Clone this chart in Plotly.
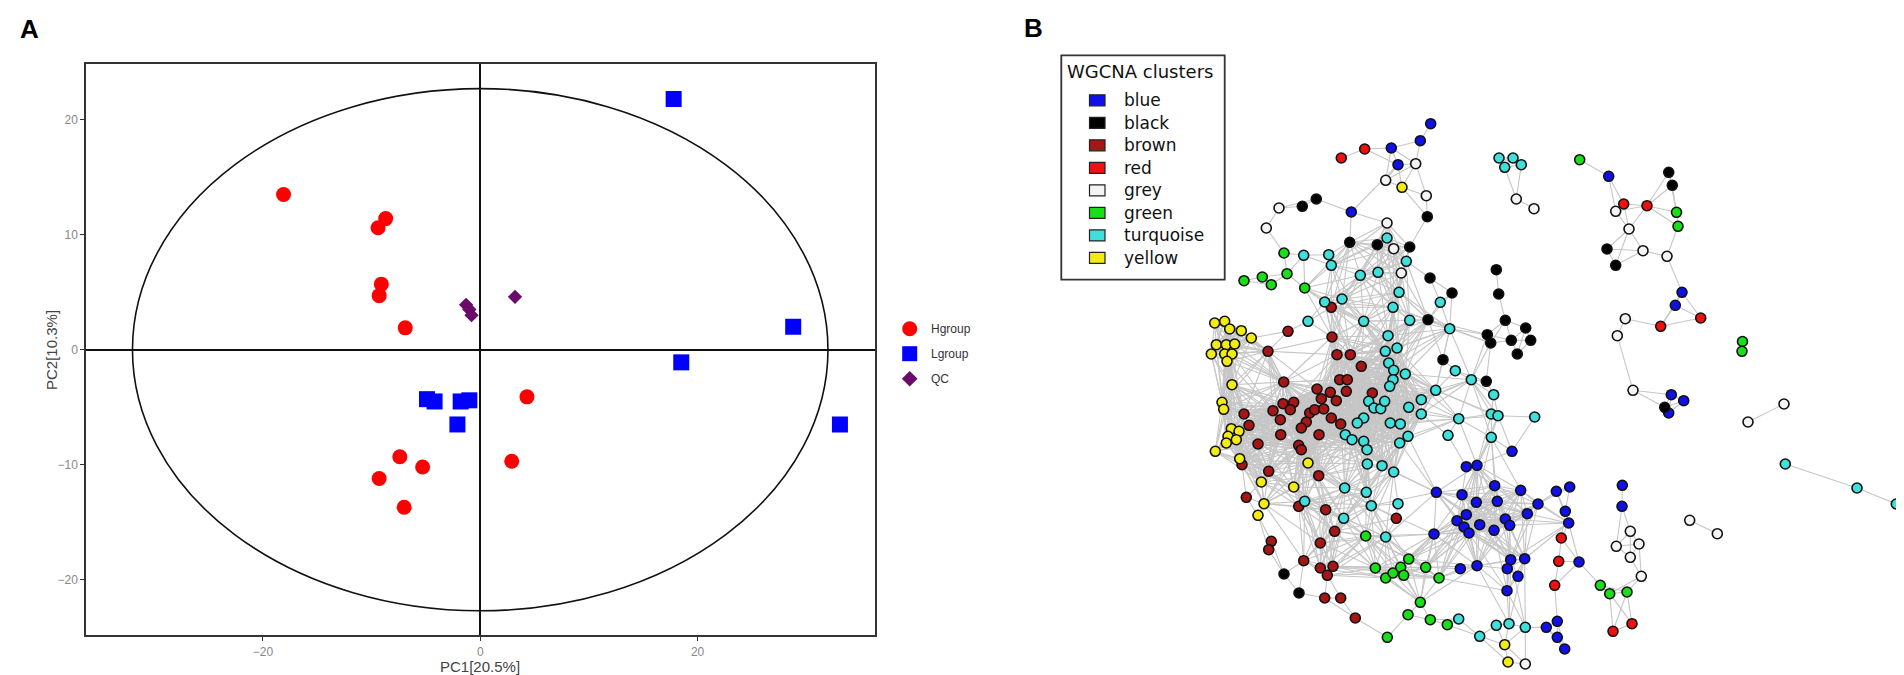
import numpy as np
import plotly.graph_objects as go

# ---- Panel A: PCA scores ----
h_pc1 = [-18.1, -8.7, -9.4, -9.1, -9.3, -6.9, 4.3, -7.4, -5.3, -9.3, -7.0, 2.9]
h_pc2 = [13.5, 11.4, 10.6, 5.7, 4.7, 1.9, -4.1, -9.3, -10.2, -11.2, -13.7, -9.7]
l_pc1 = [17.8, 28.8, 18.5, 33.1, -4.9, -4.2, -1.8, -1.0, -2.1]
l_pc2 = [21.8, 2.0, -1.1, -6.5, -4.3, -4.5, -4.5, -4.4, -6.5]
qc_pc1 = [-1.3, -1.0, -0.8, 3.2]
qc_pc2 = [3.9, 3.5, 3.0, 4.6]
ellipse_a, ellipse_b = 32.0, 22.7

# ---- Panel B: WGCNA network layout (pixel coordinates of the layout) ----
blue_x = [1422.7, 1412.3, 1383.3, 1390, 1343.3, 1600.7, 1674, 1667.3, 1428.3, 1426, 1504, 1458.3, 1469,
          1486.7, 1512.7, 1548.3, 1561.7, 1454, 1468.3, 1489.3, 1530, 1458.3, 1449, 1456, 1461, 1471.7,
          1497.3, 1501.7, 1486, 1519.3, 1557.3, 1560.7, 1614.3, 1614, 1663.3, 1675.7, 1660.7, 1452.3,
          1469, 1502.7, 1516.7, 1499.3, 1510, 1499, 1571, 1538.3, 1549.3, 1549.3, 1556.7]
blue_y = [115.7, 132.7, 140, 156.7, 204, 168.3, 284.3, 297.3, 484.3, 526, 443.3, 458.7, 457.3,
          477.7, 482.3, 483.3, 479, 486.7, 494.3, 493.3, 496, 506.7, 512.7, 519, 525, 516.7,
          511, 517.3, 522.3, 505.7, 503.3, 515, 477.3, 498.3, 386.7, 392.7, 405, 560.7,
          557.7, 551.7, 550.7, 560.7, 568.3, 582.7, 554, 619.3, 613.3, 629.3, 641]
black_x = [1294.3, 1308.3, 1419.3, 1341.7, 1369.3, 1401.7, 1422, 1420, 1660.7, 1664.3, 1599, 1607.7,
           1488.3, 1490.7, 1444, 1497.3, 1517.7, 1479.3, 1503.3, 1522.7, 1482.7, 1435, 1509.3, 1478.3,
           1656.7, 1276, 1291]
black_y = [198.3, 191, 208.7, 234.3, 236.7, 239, 270, 311.7, 164.3, 177.3, 241, 257.3,
           261.7, 286, 285, 312.3, 320, 326.7, 332.3, 332.3, 335, 351.7, 346, 373.3,
           399.3, 566, 585]
brown_x = [1323.3, 1280, 1324, 1260, 1329, 1342.3, 1353.3, 1331.7, 1339.3, 1275.7, 1309, 1322.3, 1338.3,
           1313.3, 1328.3, 1364.3, 1275, 1285.7, 1282.3, 1265, 1301.7, 1306.7, 1315.7, 1236, 1272.3,
           1323.3, 1298.3, 1293.3, 1332.7, 1241, 1272.7, 1311, 1250, 1290.7, 1293.3, 1234, 1260.7,
           1310.7, 1238.3, 1290.7, 1317.7, 1388.3, 1326.7, 1263.3, 1260.7, 1312.3, 1295.7, 1312.3, 1325,
           1319.3, 1316.7, 1332.7, 1347.3]
brown_y = [299.3, 323.3, 329, 343.3, 346.7, 346.7, 358.3, 371.7, 371.7, 374, 381, 384.3, 383.3,
           390.7, 392.7, 385, 395.7, 394.3, 401.7, 402.7, 405, 401.7, 401, 406, 411.7,
           410, 414, 420, 416, 417.3, 426.7, 426.7, 436, 437.3, 441.7, 456.7, 463.3,
           467.7, 489.3, 498.3, 501.7, 510.3, 523.3, 533.3, 541.7, 535, 552.7, 560, 558.3,
           567.3, 590, 590, 610]
red_x = [1333.3, 1356.7, 1615.7, 1639, 1652.7, 1692.7, 1553.3, 1550.7, 1546.7, 1605, 1624]
red_y = [150, 141, 196, 197.7, 318.3, 310, 530, 553.3, 577.3, 623.3, 615.7]
grey_x = [1407.7, 1377.7, 1418.3, 1271, 1258.3, 1379, 1385.7, 1393.3, 1508.3, 1526, 1607.7, 1621,
          1635, 1659, 1617.3, 1609.3, 1625, 1776, 1740, 1681.7, 1709.3, 1622.3, 1608.3, 1631, 1622.3,
          1633.3, 1517.3]
grey_y = [155.7, 172.3, 187.7, 200, 220, 215, 240.7, 265, 191, 200.7, 203.3, 221,
          242.7, 248.3, 310.7, 327.7, 382.3, 396, 414, 512.3, 525.7, 523.3, 538.3, 536, 549.3,
          568.3, 656]
green_x = [1571.7, 1668.5, 1670, 1734.5, 1734, 1276, 1236, 1254.3, 1263.3, 1279, 1296.7, 1357.7, 1367.3,
           1377.7, 1385, 1392.7, 1395.7, 1400.7, 1417.7, 1431, 1412.3, 1400, 1422.3, 1379.3, 1439.3,
           1592.3, 1601.7, 1619]
green_y = [151.7, 204.3, 218.3, 333.5, 343.3, 245, 272.7, 269, 276.7, 265.7, 280, 528, 560,
           570, 565, 559.3, 567.3, 551, 559.3, 570, 594.3, 606.7, 611.7, 629.3, 616.7,
           577.3, 585.7, 584]
turquoise_x = [1491, 1505, 1496.7, 1513.3, 1379, 1398.3, 1295.7, 1320.7, 1323.3, 1352.3, 1370, 1391,
               1316.7, 1334, 1385, 1300, 1355.7, 1401.7, 1380, 1377.3, 1389, 1380.7, 1385.7, 1397.3,
               1385, 1381.7, 1360.7, 1366, 1372.7, 1376.7, 1427.7, 1413.3, 1400.7, 1413.3, 1355.7,
               1349.3, 1382.3, 1392.3, 1337.3, 1344, 1355.7, 1359, 1400, 1391.7, 1359.3, 1374, 1385.7,
               1336.7, 1358.3, 1296.7, 1363.3, 1390, 1335.7, 1377.7, 1432.3, 1441.7, 1447.3, 1463.3,
               1485.7, 1450.7, 1483.3, 1490, 1526.7, 1440, 1483.3, 1777.3, 1849, 1888.3, 1450.7,
               1471.7, 1488.3, 1501, 1517.3]
turquoise_y = [150, 150, 159.3, 156.7, 230, 253.3, 247.3, 246.7, 257.3, 267.3, 264.3, 284.3,
               294, 291, 299.3, 313.3, 313.3, 312.3, 327.7, 343.3, 340, 355, 362.3, 366,
               371.7, 378.3, 393.3, 400, 400.7, 393.3, 382.3, 391.7, 399.3, 406, 410,
               415, 415, 416, 426.7, 431.7, 433.3, 441.7, 428.3, 435, 456, 457.7, 464,
               480, 484.3, 493.3, 497.7, 495.7, 510.3, 529, 294.3, 320.7, 362.7, 371.7,
               386.7, 410.7, 406, 407.7, 409, 427.3, 429.3, 456, 480, 496, 611,
               628.3, 617.3, 615.7, 619.3]
yellow_x = [1394, 1206.7, 1216.7, 1221.7, 1233.3, 1243.3, 1208.3, 1218.3, 1226.7, 1203.3, 1216.7, 1224,
            1219, 1224, 1214, 1215.7, 1223.3, 1231, 1220, 1228.3, 1218.3, 1207.3, 1231.7, 1300,
            1253.3, 1285.7, 1256, 1250, 1496.7, 1500]
yellow_y = [179.3, 315, 313.3, 321, 322.7, 330, 336.7, 336.7, 336, 346, 346, 346,
            353.3, 376.7, 394.3, 401.3, 420.7, 423.3, 428.3, 431.7, 435, 443.3, 450.7, 455,
            474, 479, 495.7, 507.3, 636.7, 654]

clusters = ["blue", "black", "brown", "red", "grey", "green", "turquoise", "yellow"]
cluster_colors = ["#1010e8", "#000000", "#a51616", "#f01010", "#f4f4f4", "#18e018", "#3fe0dc", "#f2ec10"]
cluster_x = [blue_x, black_x, brown_x, red_x, grey_x, green_x, turquoise_x, yellow_x]
cluster_y = [blue_y, black_y, brown_y, red_y, grey_y, green_y, turquoise_y, yellow_y]

# ---- edges: link every gene to its closest neighbours ----
X = np.concatenate([np.array(v, float) for v in cluster_x])
Y = np.concatenate([np.array(v, float) for v in cluster_y])
C = np.concatenate([np.full(len(v), i) for i, v in enumerate(cluster_x)])
D = np.hypot(X[:, None] - X[None, :], Y[:, None] - Y[None, :])
np.fill_diagonal(D, np.inf)
edges = set()
for i in range(len(X)):
    same = np.where(C == C[i], D[i], np.inf)
    j = int(np.argmin(same))
    if same[j] < 80:
        edges.add((min(i, j), max(i, j)))
    for j in np.argsort(D[i])[:3]:
        if D[i, j] < 42:
            edges.add((min(i, j), max(i, j)))
dense = (D < 45).sum(axis=1) >= 8
for i in np.where(dense)[0]:
    for j in np.where(dense & (D[i] < 70))[0]:
        edges.add((min(i, j), max(i, j)))
ex, ey = [], []
for i, j in sorted(edges):
    ex += [X[i], X[j], None]
    ey += [Y[i], Y[j], None]

fig = go.Figure()

# Panel A
fig.add_trace(go.Scatter(x=h_pc1, y=h_pc2, mode="markers", name="Hgroup", showlegend=False,
                         marker=dict(symbol="circle", size=15, color="#ff0000")))
fig.add_trace(go.Scatter(x=l_pc1, y=l_pc2, mode="markers", name="Lgroup", showlegend=False,
                         marker=dict(symbol="square", size=16, color="#0000ff")))
fig.add_trace(go.Scatter(x=qc_pc1, y=qc_pc2, mode="markers", name="QC", showlegend=False,
                         marker=dict(symbol="diamond", size=11, color="#6a0a6a")))

# legend of panel A, drawn on the full-figure pixel axis
leg_names = ["Hgroup", "Lgroup", "QC"]
leg_symbols = ["circle", "square", "diamond"]
leg_colors = ["#ff0000", "#0000ff", "#6a0a6a"]
leg_sizes = [15, 15, 12]
for k in range(3):
    fig.add_trace(go.Scatter(x=[901.7], y=[320.7 + 25 * k], xaxis="x3", yaxis="y3", mode="markers",
                             showlegend=False, hoverinfo="skip",
                             marker=dict(symbol=leg_symbols[k], size=leg_sizes[k], color=leg_colors[k])))
    fig.add_annotation(x=921, y=320.7 + 25 * k, xref="x3", yref="y3", text=leg_names[k], showarrow=False,
                       xanchor="left", font=dict(size=12, color="#333333", family="Liberation Sans"))

# Panel B
fig.add_trace(go.Scatter(x=ex, y=ey, xaxis="x3", yaxis="y3", mode="lines", showlegend=False,
                         hoverinfo="skip", line=dict(color="#c6c6c6", width=1.1)))
for name, col, xs, ys in zip(clusters, cluster_colors, cluster_x, cluster_y):
    fig.add_trace(go.Scatter(x=xs, y=ys, xaxis="x3", yaxis="y3", mode="markers", name=name,
                             showlegend=False,
                             marker=dict(size=10, color=col, line=dict(color="#111111", width=1.6))))

# legend box of panel B
fig.add_shape(type="rect", xref="x3", yref="y3", x0=1053.3, x1=1216.7, y0=47.3, y1=271.7,
              line=dict(color="#333333", width=1.8), fillcolor="white", layer="below")
fig.add_annotation(x=1057, y=63.5, xref="x3", yref="y3", text="WGCNA clusters", showarrow=False,
                   xanchor="left", font=dict(size=18, color="#111111", family="DejaVu Sans"))
for k, (name, col) in enumerate(zip(clusters, cluster_colors)):
    yk = 92.3 + 22.5 * k
    fig.add_shape(type="rect", xref="x3", yref="y3", x0=1081.5, x1=1097, y0=yk - 5.5, y1=yk + 5.5,
                  line=dict(color="#222222", width=1.2), fillcolor=col)
    fig.add_annotation(x=1114, y=yk, xref="x3", yref="y3", text=name, showarrow=False, xanchor="left",
                       font=dict(size=17, color="#111111", family="DejaVu Sans"))

# ellipse and labels of panel A
fig.add_shape(type="circle", xref="x", yref="y", x0=-ellipse_a, x1=ellipse_a, y0=-ellipse_b, y1=ellipse_b,
              line=dict(color="#111111", width=1.6), layer="below")
fig.add_annotation(x=472, y=658, xref="x3", yref="y3", text="PC1[20.5%]", showarrow=False,
                   font=dict(size=15, color="#444444", family="Liberation Sans"))
fig.add_annotation(x=43, y=342, xref="x3", yref="y3", text="PC2[10.3%]", showarrow=False, textangle=-90,
                   font=dict(size=15, color="#444444", family="Liberation Sans"))
fig.add_annotation(x=21, y=21, xref="x3", yref="y3", text="<b>A</b>", showarrow=False,
                   font=dict(size=26, color="black", family="Liberation Sans"))
fig.add_annotation(x=1025, y=20, xref="x3", yref="y3", text="<b>B</b>", showarrow=False,
                   font=dict(size=26, color="black", family="Liberation Sans"))

axis_a = dict(showgrid=False, showline=True, mirror=True, linecolor="#333333", linewidth=2,
              zeroline=True, zerolinecolor="#111111", zerolinewidth=1.6, ticks="outside", ticklen=4,
              tickcolor="#333333", tickfont=dict(size=12, color="#888888", family="Liberation Sans"))
fig.update_layout(
    width=1904, height=675,
    margin=dict(l=0, r=0, t=0, b=0, pad=0),
    paper_bgcolor="white", plot_bgcolor="rgba(0,0,0,0)",
    showlegend=False,
    xaxis=dict(axis_a, domain=[78.3 / 1904, 866.7 / 1904], range=[-36.25, 36.3], tickvals=[-20, 0, 20]),
    yaxis=dict(axis_a, domain=[47.7 / 675, 619 / 675], range=[-24.83, 24.84],
               tickvals=[-20, -10, 0, 10, 20]),
    xaxis3=dict(domain=[0, 1], range=[0, 1904], visible=False, anchor="y3"),
    yaxis3=dict(domain=[0, 1], range=[675, 0], visible=False, anchor="x3"),
)

fig.write_html("out.html")
